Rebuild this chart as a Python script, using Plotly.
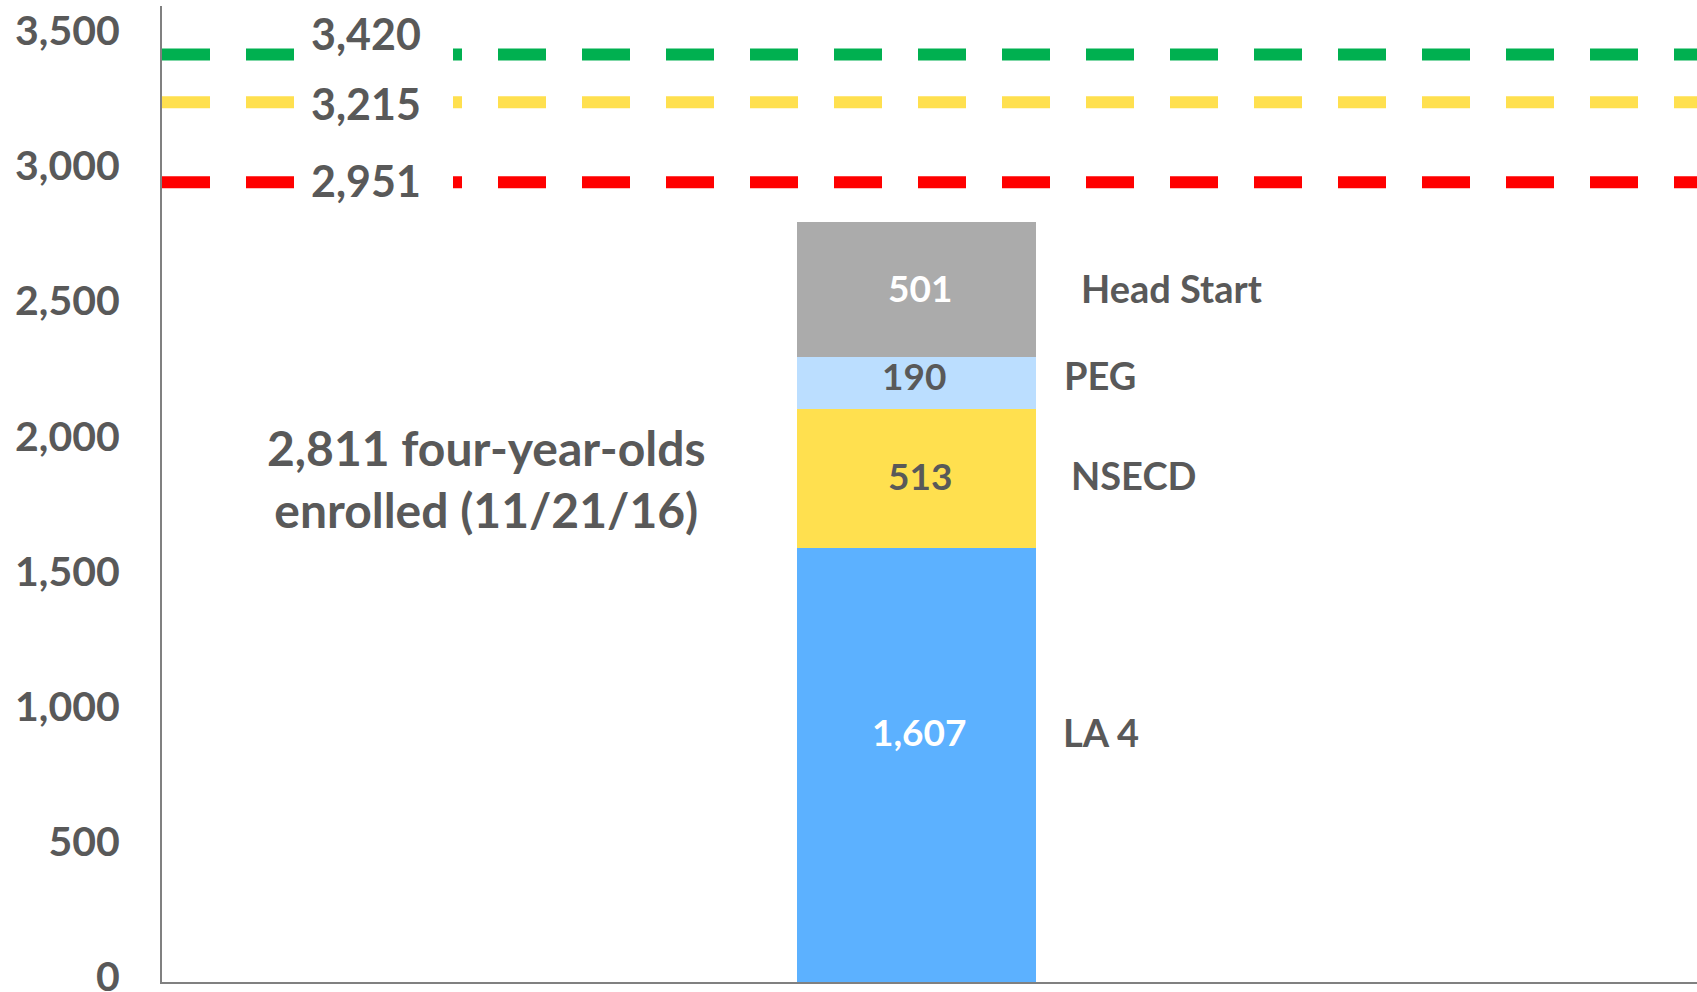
import numpy as np
import plotly.graph_objects as go

# ---------------- data ----------------
category = ["Enrolled"]
programs = ["LA 4", "NSECD", "PEG", "Head Start"]
enrolled = [1607, 513, 190, 501]
bar_colors = ["#5CB1FF", "#FFE04F", "#BBDEFF", "#ABABAB"]
value_text_colors = ["#FFFFFF", "#595959", "#595959", "#FFFFFF"]

target_labels = ["3,420", "3,215", "2,951"]
target_levels = [3431, 3254, 2958]          # where the dashed lines sit in the picture
target_colors = ["#00B050", "#FFE04F", "#FF0000"]

y_ticks = [0, 500, 1000, 1500, 2000, 2500, 3000, 3500]
summary_text = "2,811 four-year-olds<br>enrolled (11/21/16)"

# ---------------- style ----------------
FONT = "Lato"
GREY = "#595959"
W, H = 1697, 992
L, R, T, B = 162, 0, 6, 10
plot_w = W - L - R

def px_to_paper_x(px):
    return (px - L) / plot_w

fig = go.Figure()

for name, val, col in zip(programs, enrolled, bar_colors):
    fig.add_trace(go.Bar(
        x=category, y=[val], name=name, width=1,
        marker=dict(color=col, line=dict(width=0)),
        hoverinfo="name+y", showlegend=False,
    ))

# value labels inside bar and program labels at the right
cum = np.cumsum([0] + enrolled)
mids = (cum[:-1] + cum[1:]) / 2
value_yshift = [33, 3, 8, 2]
name_xshift = [147, 155, 148, 165]
value_xshift = [3, 4, -2, 4]
for i, (name, val) in enumerate(zip(programs, enrolled)):
    fig.add_annotation(
        x=category[0], y=mids[i], text=f"{val:,}", showarrow=False,
        xanchor="center", xshift=value_xshift[i], yshift=value_yshift[i],
        font=dict(family=FONT, size=37, color=value_text_colors[i], weight="bold"),
    )
    fig.add_annotation(
        x=category[0], y=mids[i], text=name, showarrow=False,
        xanchor="left", xshift=name_xshift[i] - 2, yshift=value_yshift[i],
        font=dict(family=FONT, size=38, color=GREY, weight="bold"),
    )

# dashed target lines
label_yshift = [21, -1, 2]
for lvl, col in zip(target_levels, target_colors):
    fig.add_shape(
        type="line", xref="paper", yref="y", x0=0, x1=1, y0=lvl, y1=lvl,
        line=dict(color=col, width=12, dash="48px,36px"), layer="above",
    )
for lvl, lab, ys in zip(target_levels, target_labels, label_yshift):
    fig.add_shape(
        type="rect", xref="paper", yref="y",
        x0=px_to_paper_x(296), x1=px_to_paper_x(453),
        ysizemode="pixel", yanchor=lvl, y0=-8, y1=8,
        fillcolor="white", line=dict(width=0), layer="above",
    )
    fig.add_annotation(
        xref="paper", yref="y", x=px_to_paper_x(366), y=lvl, text=lab,
        showarrow=False, xanchor="center", yanchor="middle", yshift=ys,
        font=dict(family=FONT, size=43, color=GREY, weight="bold"),
    )

fig.add_annotation(
    xref="paper", yref="paper", x=px_to_paper_x(486.5), y=(H - B - 478) / (H - T - B),
    text=summary_text, showarrow=False, align="center",
    xanchor="center", yanchor="middle",
    font=dict(family=FONT, size=48, color=GREY, weight="bold"),
)

fig.update_layout(
    width=W, height=H,
    margin=dict(l=L, r=R, t=T, b=B, pad=0, autoexpand=False),
    paper_bgcolor="white", plot_bgcolor="white",
    barmode="stack", bargap=0,
    font=dict(family=FONT, color=GREY),
    xaxis=dict(
        type="category", range=[-3.157, 3.266], automargin=False,
        showline=True, linecolor="#808080", linewidth=2,
        showticklabels=False, ticks="", showgrid=False, zeroline=False,
    ),
    yaxis=dict(
        range=[0, 3610], tickvals=y_ticks, tickformat=",", automargin=False,
        showline=True, linecolor="#808080", linewidth=2,
        ticks="", showgrid=False, zeroline=False,
        tickfont=dict(family=FONT, size=41, color=GREY, weight="bold"),
        ticklabelstandoff=32, ticklabelshift=-5, ticklabeloverflow="allow",
    ),
)

fig.write_html(
    "out.html",
    config={"displayModeBar": False},
    post_script="document.body.style.margin='0';document.body.style.overflow='hidden';",
)
